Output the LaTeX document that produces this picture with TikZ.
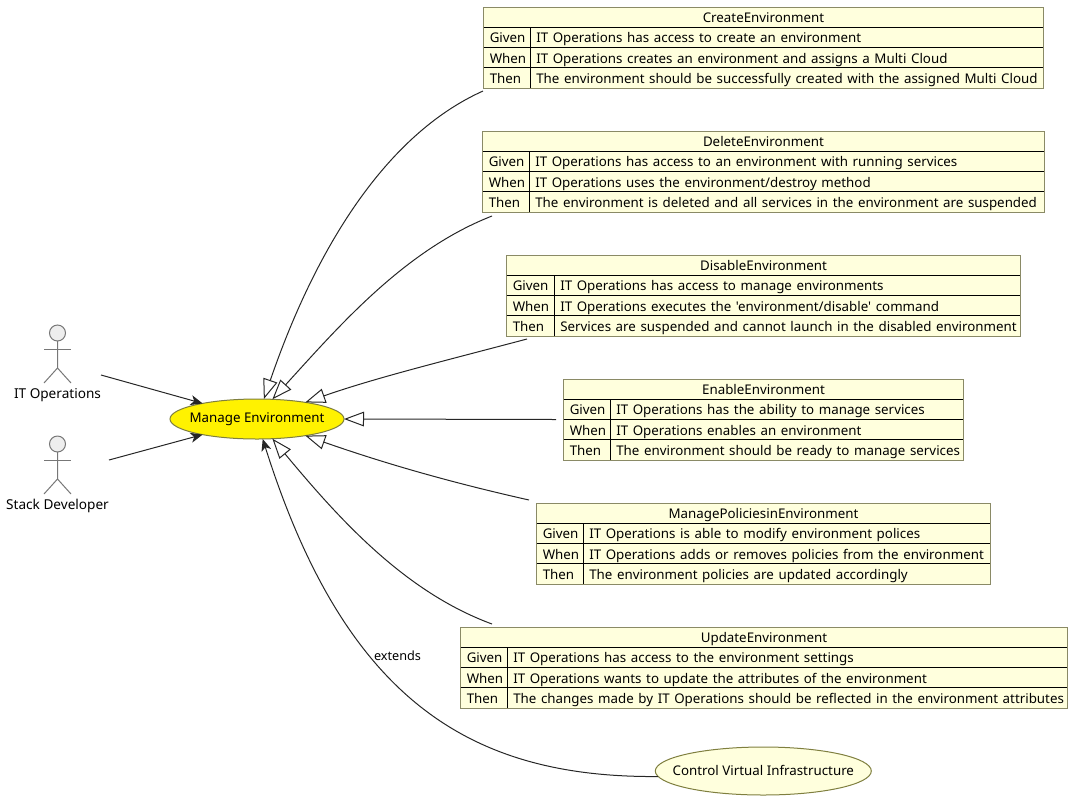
\documentclass[tikz,border=0pt]{standalone}
\usepackage{fontspec}
\setmainfont{Noto Sans}
\newfontfamily\rowfont[WordSpace=1.33]{Noto Sans}
\usetikzlibrary{arrows.meta,shapes.geometric}
\definecolor{tablefill}{HTML}{FFFFDD}
\definecolor{tableedge}{HTML}{8A8A66}
\definecolor{usecaseedge}{HTML}{7F7F3F}
\definecolor{actoredge}{HTML}{777777}
\definecolor{actorfill}{HTML}{EEEEEE}
\tikzset{
	tablebox/.style={draw=tableedge,fill=tablefill,line width=0.75pt,inner sep=0pt,outer sep=0pt,anchor=north west},
	rowline/.style={black,line width=0.75pt},
	rowtext/.style={inner sep=0pt,anchor=base west,font=\rowfont\fontsize{10}{12}\selectfont},
	titletext/.style={inner sep=0pt,anchor=base,font=\fontsize{10}{12}\selectfont},
	usecase/.style={draw=usecaseedge,ellipse,inner sep=0pt,outer sep=0pt,line width=0.75pt,font=\fontsize{10}{12}\selectfont},
	actorline/.style={draw=actoredge,line width=0.75pt},
	actorlabel/.style={inner sep=0pt,anchor=base,font=\fontsize{10.2}{12}\selectfont},
	assoc/.style={-{Stealth[length=9pt,width=7.5pt,inset=2.5pt]},line width=0.75pt,black!85},
	generalize/.style={-{Triangle[open,length=15pt,width=11pt]},line width=0.75pt,black!85}
}
% #1 name, #2 left, #3 right, #4 column line, #5 top
\newcommand{\scenariotable}[9]{
	\pgfmathsetlengthmacro{\tablewidth}{(#3-#2+0.5)*0.75pt}
	\node[tablebox,minimum width=\tablewidth,minimum height=60.4pt] (#1) at (#2-0.5,#5-0.5) {};
	\draw[rowline] (#2-0.5,#5+19) -- (#3,#5+19);
	\draw[rowline] (#2-0.5,#5+39.5) -- (#3,#5+39.5);
	\draw[rowline] (#2-0.5,#5+59.5) -- (#3,#5+59.5);
	\draw[rowline] (#4-0.5,#5+19) -- (#4-0.5,#5+80);
	\node[titletext] (#1title) at ({(#2+#3)/2},#5+14) {#6};
	\node[rowtext] (#1givenkey) at (#2+5.5,#5+34) {Given};
	\node[rowtext] (#1whenkey) at (#2+5.5,#5+55) {When};
	\node[rowtext] (#1thenkey) at (#2+5.5,#5+75) {Then};
	\node[rowtext] (#1given) at (#4+5,#5+34) {#7};
	\node[rowtext] (#1when) at (#4+5,#5+55) {#8};
	\node[rowtext] (#1then) at (#4+5,#5+75) {#9};
}
% #1 name, #2 x, #3 y of head centre, #4 label
\newcommand{\stickman}[4]{
	\draw[actorline,fill=actorfill] (#2,#3) circle (6pt);
	\draw[actorline] (#2,#3+8) -- (#2,#3+35) -- (#2-13.5,#3+50);
	\draw[actorline] (#2,#3+35) -- (#2+13.5,#3+50);
	\draw[actorline] (#2-13.5,#3+16) -- (#2+13.5,#3+16);
	\node[actorlabel] (#1) at (#2,#3+65) {#4};
}
\begin{document}
\begin{tikzpicture}[x=0.75pt,y=-0.75pt]
	\useasboundingbox (0,0) rectangle (1073,800);
	\scenariotable{create}{484}{1043}{531}{8}{CreateEnvironment}{IT Operations has access to create an environment}{IT Operations creates an environment and assigns a Multi Cloud}{The environment should be successfully created with the assigned Multi Cloud}
	\scenariotable{delete}{483}{1044}{530}{132}{DeleteEnvironment}{IT Operations has access to an environment with running services}{IT Operations uses the environment/destroy method}{The environment is deleted and all services in the environment are suspended}
	\scenariotable{disable}{507}{1020}{555}{256}{DisableEnvironment}{IT Operations has access to manage environments}{IT Operations executes the 'environment/disable' command}{Services are suspended and cannot launch in the disabled environment}
	\scenariotable{enable}{564}{963}{611}{380}{EnableEnvironment}{IT Operations has the ability to manage services}{IT Operations enables an environment}{The environment should be ready to manage services}
	\scenariotable{policies}{537}{990}{584}{504}{ManagePoliciesinEnvironment}{IT Operations is able to modify environment polices}{IT Operations adds or removes policies from the environment}{The environment policies are updated accordingly}
	\scenariotable{update}{461}{1067}{508}{628}{UpdateEnvironment}{IT Operations has access to the environment settings}{IT Operations wants to update the attributes of the environment}{The changes made by IT Operations should be reflected in the environment attributes}

	\node[usecase,fill=yellow,minimum width=130.5pt,minimum height=30pt] (manage) at (257,419) {\makebox[0pt]{\raisebox{0.5pt}{Manage Environment}}};
	\node[usecase,fill=tablefill,minimum width=162pt,minimum height=36pt] (control) at (763.3,771) {\makebox[0pt]{\raisebox{1.5pt}{Control Virtual Infrastructure}}};

	\stickman{itops}{57.5}{333}{IT Operations}
	\stickman{stackdev}{57.5}{444}{Stack Developer}

	\coordinate (itopsout) at (101,375);
	\coordinate (stackdevout) at (109,460);
	\coordinate (createout) at (483,91);
	\coordinate (deleteout) at (492,216);
	\coordinate (disableout) at (527,339);
	\coordinate (enableout) at (556,419.5);
	\coordinate (policiesout) at (529,500);
	\coordinate (updateout) at (492,624);

	\draw[assoc] (itopsout) -- (manage.164);
	\draw[assoc] (stackdevout) -- (manage.196);
	\draw[generalize] (createout) .. controls (385,135) and (315,250) .. (manage.71);
	\draw[generalize] (deleteout) .. controls (405,250) and (340,325) .. (manage.52);
	\draw[generalize] (disableout) .. controls (440,362) and (375,378) .. (manage.19);
	\draw[generalize] (enableout) -- (manage.0);
	\draw[generalize] (policiesout) .. controls (440,480) and (375,460) .. (manage.-19);
	\draw[generalize] (updateout) .. controls (405,592) and (340,520) .. (manage.-52);
	\draw[assoc] (control.183.9) .. controls (470,778) and (345,700) .. (manage.-74);
	\node[inner sep=0pt,anchor=base,font=\fontsize{9.5}{11}\selectfont] (extendslabel) at (397.5,660) {extends};
\end{tikzpicture}
\end{document}
